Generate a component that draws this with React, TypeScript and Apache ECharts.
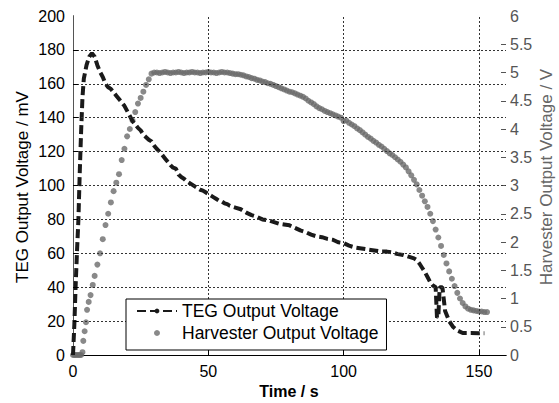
import React, { useEffect, useRef } from "react";
import * as echarts from "echarts";

const xTicks = { min: 0, max: 160, interval: 50 };
const leftTicks = { min: 0, max: 200, interval: 20 };
const rightTicks = { min: 0, max: 6, interval: 0.5 };

const xGridValues = [50, 100, 150];
const leftGridValues = [20, 40, 60, 80, 100, 120, 140, 160, 180];
const rightTickValues = [0.5, 1, 1.5, 2, 2.5, 3, 3.5, 4, 4.5, 5, 5.5];

const tegName = "TEG Output Voltage";
const harvName = "Harvester Output Voltage";
const xTitle = "Time / s";
const leftTitle = "TEG Output Voltage / mV";
const rightTitle = "Harvester Output Voltage / V";

// [time s, TEG mV]
const tegData: number[][] = [
  [0, 0], [0.5, 18], [1, 42], [1.5, 62], [2, 80], [2.5, 108], [3, 132], [3.5, 152], [4, 163],
  [5, 171], [6, 176], [7, 178], [8, 176], [9, 171], [10, 167], [11, 164], [12, 160], [13, 158],
  [14, 157], [15, 155], [16, 153], [17, 151], [18, 149], [19, 147], [20, 144], [21, 141],
  [22, 138], [23, 136], [24, 134], [25, 132.5], [26, 130], [27, 128.5], [28, 127], [29, 126],
  [30, 123.5], [31, 121.5], [32, 120], [33, 118], [34, 116], [35, 114], [36, 112], [37, 110.5],
  [38, 110], [39, 106.5], [40, 105], [41, 104], [42, 102.5], [43, 101.5], [44, 100.5], [45, 99.5],
  [46, 98.5], [47, 97.5], [48, 97], [49, 96], [50, 95], [51, 94], [52, 93], [53, 92], [54, 91],
  [55, 90.5], [56, 89.5], [57, 89], [58, 88], [60, 87], [62, 86], [64, 84], [66, 82.5],
  [68, 81.5], [70, 80], [72, 79.5], [74, 78.5], [76, 77.5], [78, 77], [80, 76.5], [82, 75],
  [84, 73.5], [86, 72.5], [88, 71], [90, 70], [92, 69.5], [94, 68.5], [96, 68], [98, 66.5],
  [100, 66], [102, 64.5], [104, 63.5], [106, 63], [108, 62.5], [110, 62], [112, 61.5], [114, 61],
  [116, 61], [118, 60.5], [120, 59.5], [122, 59], [124, 58], [126, 57], [127, 56], [128, 54],
  [129, 51.5], [130, 49], [131, 46], [132, 43], [133, 41], [134, 40], [134.5, 22], [135, 23],
  [135.5, 40], [136.5, 40], [137.5, 26], [139, 20], [140.5, 16.5], [142, 14.5], [144, 13],
  [147, 13], [150, 12.8], [152, 12.8],
];

// [time s, Harvester V]
const harvData: number[][] = [
  [0, 0], [0.5, 0], [1, 0], [1.5, 0], [2, 0], [2.5, 0], [3, 0], [3.5, 0.05], [3.8, 0.25],
  [4.3, 0.42], [4.8, 0.58], [5.2, 0.8], [5.8, 0.94], [6.5, 1.06], [7.3, 1.24], [8, 1.4],
  [9, 1.6], [10, 1.8], [11, 2.05], [12, 2.3], [13, 2.5], [14, 2.7], [15, 2.9], [16, 3.05],
  [17, 3.2], [18, 3.45], [19, 3.65], [20, 3.87], [21, 4.0], [22, 4.15], [23, 4.3], [24, 4.45],
  [25, 4.55], [26, 4.66], [27, 4.78], [28, 4.88], [29, 4.98], [30, 5.0], [31, 5.0], [32, 4.99],
  [33, 5.0], [34, 5.01], [35, 5.0], [36, 4.99], [37, 5.0], [38, 5.0], [39, 5.01], [40, 5.0],
  [41, 4.99], [42, 5.0], [43, 5.0], [44, 5.01], [45, 5.0], [46, 5.0], [47, 4.99], [48, 5.0],
  [49, 5.0], [50, 5.01], [51, 5.0], [52, 5.0], [53, 4.99], [54, 5.0], [55, 5.01], [56, 5.0],
  [57, 5.0], [58, 4.99], [59, 4.98], [60, 4.97], [61, 4.97], [62, 4.96], [63, 4.95], [64, 4.93],
  [65, 4.92], [66, 4.9], [67, 4.89], [68, 4.87], [69, 4.86], [70, 4.84], [71, 4.83], [72, 4.81],
  [73, 4.8], [74, 4.78], [75, 4.76], [76, 4.74], [77, 4.72], [78, 4.7], [79, 4.68], [80, 4.66],
  [81, 4.65], [82, 4.63], [83, 4.61], [84, 4.59], [85, 4.57], [86, 4.54], [87, 4.5], [88, 4.47],
  [89, 4.44], [90, 4.4], [91, 4.37], [92, 4.35], [93, 4.32], [94, 4.3], [95, 4.28], [96, 4.26],
  [97, 4.24], [98, 4.22], [99, 4.2], [100, 4.14], [101, 4.15], [102, 4.11], [103, 4.08],
  [104, 4.05], [105, 4.01], [106, 3.98], [107, 3.94], [108, 3.9], [109, 3.86], [110, 3.83],
  [111, 3.79], [112, 3.76], [113, 3.72], [114, 3.69], [115, 3.65], [116, 3.61], [117, 3.57],
  [118, 3.54], [119, 3.5], [120, 3.46], [121, 3.42], [122, 3.37], [123, 3.32], [124, 3.25],
  [125, 3.18], [126, 3.1], [127, 3.02], [128, 2.92], [129, 2.82], [130, 2.72], [131, 2.62],
  [132, 2.5], [133, 2.37], [134, 2.22], [135, 2.08], [136, 1.93], [137, 1.77], [138, 1.62],
  [139, 1.48], [140, 1.35], [141, 1.22], [142, 1.1], [143, 1.0], [144, 0.92], [145, 0.86],
  [146, 0.82], [147, 0.8], [148, 0.79], [149, 0.78], [150, 0.77], [151, 0.77], [152, 0.76],
  [153, 0.76],
];

const FONT = "Arial";

export default function App() {
  const ref = useRef<HTMLDivElement>(null);
  useEffect(() => {
    if (!ref.current) return;
    const chart = echarts.init(ref.current, null, { renderer: "svg" });

    // tick length expressed in axis units (~5 px)
    const xTickLen = (xTicks.max - xTicks.min) * 5 / 433;
    const yTickLen = (leftTicks.max - leftTicks.min) * 5 / 339;

    const gridLines = [
      ...leftGridValues.map((v) => ({ yAxis: v })),
      ...xGridValues.map((v) => ({ xAxis: v })),
    ];
    const leftTickSegs = leftGridValues.map((v) => [
      { coord: [xTicks.min, v] }, { coord: [xTicks.min + xTickLen, v] },
    ]);
    const xTickSegs = xGridValues.map((v) => [
      { coord: [v, leftTicks.min] }, { coord: [v, leftTicks.min + yTickLen] },
    ]);
    const rightTickSegs = rightTickValues.map((v) => [
      { coord: [xTicks.max, v] }, { coord: [xTicks.max - xTickLen, v] },
    ]);

    chart.setOption({
      animation: false,
      grid: { left: 73, right: 53, top: 16, bottom: 48 },
      legend: {
        orient: "vertical",
        left: 126, top: 299,
        backgroundColor: "#fff", borderColor: "#000", borderWidth: 1, borderRadius: 0,
        padding: [3, 8, 8, 10], itemGap: 4, itemWidth: 40, itemHeight: 6,
        textStyle: { fontSize: 17.5, color: "#000", fontFamily: FONT },
        data: [{ name: tegName }, { name: harvName, icon: "circle" }],
        z: 10,
      },
      graphic: [
        {
          type: "text", x: 22, y: 187, rotation: Math.PI / 2, silent: true,
          style: {
            text: leftTitle, fill: "#000", fontSize: 17, fontFamily: FONT,
            textAlign: "center", textVerticalAlign: "middle", verticalAlign: "middle",
          },
        },
        {
          type: "text", x: 546, y: 177, rotation: Math.PI / 2, silent: true,
          style: {
            text: rightTitle, fill: "#666", fontSize: 17, fontFamily: FONT,
            textAlign: "center", textVerticalAlign: "middle", verticalAlign: "middle",
          },
        },
        {
          type: "text", x: 289, y: 391, silent: true,
          style: {
            text: xTitle, fill: "#000", fontSize: 16, fontWeight: "bold", fontFamily: FONT,
            textAlign: "center", textVerticalAlign: "middle", verticalAlign: "middle",
          },
        },
      ],
      xAxis: [
        {
          type: "value",
          min: xTicks.min, max: xTicks.max, interval: xTicks.interval,
          axisLine: { show: true, lineStyle: { color: "#000" } },
          axisTick: { show: false },
          axisLabel: {
            fontSize: 16, color: "#000", margin: 8, fontFamily: FONT,
            formatter: (v: number) => (v > 155 ? "" : String(v)),
          },
          splitLine: { show: false },
        },
        {
          type: "value", position: "top",
          min: xTicks.min, max: xTicks.max, interval: xTicks.interval,
          axisLine: { show: true, lineStyle: { color: "#000" } },
          axisTick: { show: false },
          axisLabel: { show: false },
          splitLine: { show: false },
        },
      ],
      yAxis: [
        {
          type: "value",
          min: leftTicks.min, max: leftTicks.max, interval: leftTicks.interval,
          axisLine: { show: true, lineStyle: { color: "#000" } },
          axisTick: { show: false },
          axisLabel: { fontSize: 16, color: "#000", margin: 8, fontFamily: FONT },
          splitLine: { show: false },
        },
        {
          type: "value", position: "right",
          min: rightTicks.min, max: rightTicks.max, interval: rightTicks.interval,
          axisLine: { show: true, lineStyle: { color: "#555" } },
          axisTick: { show: false },
          axisLabel: { fontSize: 16, color: "#555", margin: 4, fontFamily: FONT },
          splitLine: { show: false },
        },
      ],
      series: [
        {
          name: harvName,
          type: "scatter",
          xAxisIndex: 0,
          yAxisIndex: 1,
          data: harvData,
          symbol: "circle",
          symbolSize: 6,
          itemStyle: { color: "#6b6b6b" },
          z: 2,
          markLine: {
            silent: true, symbol: ["none", "none"], animation: false,
            label: { show: false }, emphasis: { disabled: true },
            lineStyle: { color: "#555", width: 1, type: "solid" },
            data: rightTickSegs,
          },
        },
        {
          name: tegName,
          type: "line",
          xAxisIndex: 0,
          yAxisIndex: 0,
          data: tegData,
          symbol: "none",
          showSymbol: false,
          lineStyle: { color: "#1a1a1a", width: 4, type: [9, 4] },
          itemStyle: { color: "#1a1a1a" },
          z: 3,
          markLine: {
            silent: true, symbol: ["none", "none"], animation: false,
            label: { show: false }, emphasis: { disabled: true },
            lineStyle: { color: "#333", width: 1, type: [2, 2] },
            data: [
              ...gridLines,
              ...leftTickSegs.map((s) => s.map((p) => ({ ...p, lineStyle: { type: "solid", color: "#000" } }))),
              ...xTickSegs.map((s) => s.map((p) => ({ ...p, lineStyle: { type: "solid", color: "#000" } }))),
            ],
          },
        },
      ],
    });
    return () => chart.dispose();
  }, []);
  return (
    <div
      ref={ref}
      style={{ position: "absolute", left: 0, top: 0, width: 559, height: 403 }}
    />
  );
}
